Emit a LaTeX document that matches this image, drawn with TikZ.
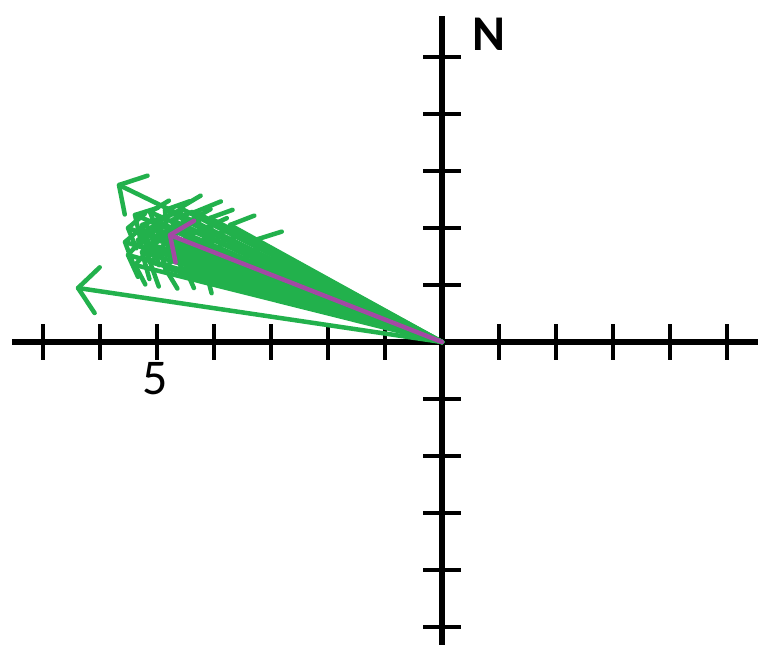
\documentclass[tikz,border=0pt]{standalone}
\usepackage{fontspec}
\setmainfont{Carlito}
\usetikzlibrary{calc}
\definecolor{vgreen}{RGB}{34,177,76}
\definecolor{vpurple}{RGB}{163,73,164}
\begin{document}
\begin{tikzpicture}[x=1pt,y=-1pt,
  axis/.style={line width=5.5pt,black},
  tickmark/.style={line width=4pt,black},
  vec/.style={line width=4.5pt,vgreen,line cap=round,line join=round},
  pvec/.style={line width=4.5pt,vpurple,line cap=round,line join=round},
  lab/.style={inner sep=0pt,font=\fontsize{50}{50}\selectfont}]
\useasboundingbox (0,0) rectangle (758,648);
\coordinate (o) at (442,342);
\coordinate (xl) at (12,342);
\coordinate (xr) at (758,342);
\coordinate (yt) at (442,16);
\coordinate (yb) at (442,645);
% axes
\draw[axis] (xl) -- (xr);
\draw[axis] (yt) -- (yb);
\foreach \k in {-7,...,-1,1,2,3,4,5}
  \draw[tickmark] ({442+57*\k},324) -- ({442+57*\k},360);
\foreach \k in {-5,...,-1,1,2,3,4,5}
  \draw[tickmark] (423,{342+57*\k}) -- (461,{342+57*\k});
% green vectors: tip x / tip y / upper arm angle / lower arm angle / arm length
\foreach \x/\y/\a/\b/\l [count=\i] in {
  119/185/-53/44/30, 78/288/-48/52/30,
  135/215/-55/40/24,150/212/-45/55/22,165/210/-60/45/26,180/208/-50/58/24,195/212/-42/50/28,210/218/-55/48/24,
  128/228/-48/60/22,142/225/-58/42/26,158/222/-44/52/24,172/220/-52/46/22,188/222/-60/55/26,205/228/-46/50/24,
  125/242/-52/58/26,138/240/-40/48/22,152/238/-56/44/28,168/236/-48/62/24,185/238/-54/50/22,200/242/-44/46/26,
  128/255/-50/64/24,142/252/-58/50/28,158/250/-46/58/22,175/250/-52/44/26,192/255/-42/66/28,210/258/-56/70/24,
  135/265/-48/62/22,150/262/-55/54/26,165/268/-44/60/24,185/268/-50/48/22,205/268/-58/52/26,
  255/240/-52/46/28,230/225/-48/50/26,145/232/-50/56/24,190/248/-55/52/24}
{
  \coordinate (g\i) at (\x,\y);
  \draw[vec] (g\i) -- (o);
  \draw[vec] ($(g\i)!\l pt!\a:(o)$) -- (g\i) -- ($(g\i)!\l pt!\b:(o)$);
}
% purple vector
\coordinate (p) at (170,235);
\draw[pvec] (p) -- (o);
\draw[pvec] ($(p)!28pt!-57:(o)$) -- (p) -- ($(p)!28pt!52:(o)$);
% labels
\node[lab,font=\bfseries\fontsize{50}{50}\selectfont] (nlab) at (489,34) {N};
\node[lab] (five) at (155,379) {5};
\end{tikzpicture}
\end{document}
